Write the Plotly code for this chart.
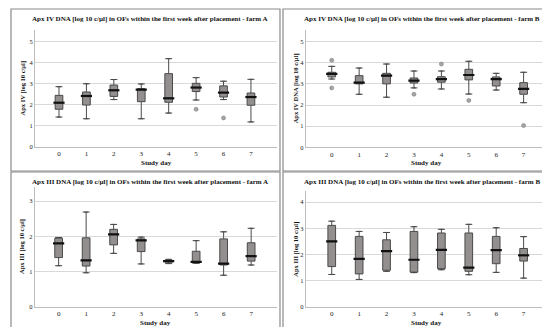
import plotly.graph_objects as go

days = [0, 1, 2, 3, 4, 5, 6, 7]

# Panel 1: Apx IV farm A
a4_low = [1.42, 1.34, 2.25, 1.34, 1.61, 2.23, 2.25, 1.19]
a4_q1 = [1.79, 1.99, 2.40, 2.15, 2.12, 2.63, 2.37, 1.98]
a4_med = [2.10, 2.42, 2.69, 2.72, 2.31, 2.82, 2.58, 2.37]
a4_q3 = [2.45, 2.61, 2.94, 2.77, 3.48, 3.02, 2.90, 2.56]
a4_high = [2.86, 3.00, 3.20, 2.99, 4.19, 3.29, 3.12, 3.21]
a4_out_x = [5, 6]
a4_out_y = [1.79, 1.38]

# Panel 2: Apx IV farm B
b4_low = [3.23, 2.51, 2.37, 2.81, 2.76, 2.52, 2.71, 2.11]
b4_q1 = [3.33, 3.00, 3.00, 3.04, 3.08, 3.19, 2.90, 2.51]
b4_med = [3.47, 3.06, 3.39, 3.15, 3.23, 3.42, 3.23, 2.76]
b4_q3 = [3.55, 3.39, 3.50, 3.28, 3.34, 3.69, 3.33, 3.06]
b4_high = [3.83, 3.75, 3.94, 3.61, 3.61, 4.07, 3.50, 3.55]
b4_out_x = [0, 0, 3, 4, 5, 7]
b4_out_y = [4.12, 2.81, 2.51, 3.94, 2.22, 1.03]

# Panel 3: Apx III farm A
a3_low = [1.17, 0.97, 1.52, 1.22, 1.23, 1.24, 0.90, 1.19]
a3_q1 = [1.40, 1.16, 1.76, 1.57, 1.27, 1.25, 1.19, 1.30]
a3_med = [1.80, 1.32, 2.06, 1.89, 1.30, 1.28, 1.23, 1.44]
a3_q3 = [1.95, 1.96, 2.20, 1.93, 1.32, 1.58, 1.93, 1.82]
a3_high = [1.97, 2.69, 2.34, 1.98, 1.35, 1.88, 2.13, 2.23]

# Panel 4: Apx III farm B
b3_low = [1.24, 1.05, 1.36, 1.31, 1.42, 1.23, 1.32, 1.10]
b3_q1 = [1.54, 1.26, 1.40, 1.33, 1.46, 1.36, 1.65, 1.75]
b3_med = [2.50, 1.83, 2.13, 1.80, 2.18, 1.50, 2.17, 1.97]
b3_q3 = [3.11, 2.69, 2.56, 2.88, 2.82, 2.82, 2.69, 2.23]
b3_high = [3.27, 2.88, 2.84, 3.06, 2.96, 3.15, 3.02, 2.68]

titles = [
    "Apx IV DNA [log 10 c/µl] in OFs within the first week after placement - farm A",
    "Apx IV DNA [log 10 c/µl] in OFs within the first week after placement - farm B",
    "Apx III DNA [log 10 c/µl] in OFs within the first week after placement - farm A",
    "Apx III DNA [log 10 c/µl] in OFs within the first week after placement - farm B",
]
ytitles = [
    "Apx IV [log 10 c/µl]",
    "Apx IV DNA [log 10 c/µl]",
    "Apx III [log 10 c/µl]",
    "Apx III [log 10 c/µl]",
]
xtitle = "Study day"

W, H = 550, 327
FONT = "Liberation Serif"

panels = [
    dict(stats=(a4_low, a4_q1, a4_med, a4_q3, a4_high), out=(a4_out_x, a4_out_y),
         px=(27, 269), py=(22, 139), xr=[-0.875, 7.95], yr=[0, 5.55], ytv=[0, 1, 2, 3, 4, 5],
         border=(3, 272, 1, 163), ytx=14),
    dict(stats=(b4_low, b4_q1, b4_med, b4_q3, b4_high), out=(b4_out_x, b4_out_y),
         px=(297.7, 540), py=(22, 139.3), xr=[-0.95, 7.89], yr=[0, 5.55], ytv=[0, 1, 2, 3, 4, 5],
         border=(275, 544, 1, 163), ytx=287.7),
    dict(stats=(a3_low, a3_q1, a3_med, a3_q3, a3_high), out=([], []),
         px=(26.7, 269), py=(179, 299), xr=[-0.87, 7.94], yr=[0, 3.4], ytv=[0, 1, 2, 3],
         border=(3, 272, 164, 322), ytx=14),
    dict(stats=(b3_low, b3_q1, b3_med, b3_q3, b3_high), out=([], []),
         px=(297.7, 540), py=(183, 299), xr=[-0.95, 7.89], yr=[0, 4.42], ytv=[0, 1, 2, 3, 4],
         border=(275, 544, 164, 322), ytx=287.7),
]

fig = go.Figure()
shapes = []
annotations = []
layout_axes = {}

for i, p in enumerate(panels):
    n = i + 1
    xa = "x" if n == 1 else f"x{n}"
    ya = "y" if n == 1 else f"y{n}"
    low, q1, med, q3, high = p["stats"]
    fig.add_trace(go.Box(
        x=days, q1=q1, median=med, q3=q3, lowerfence=low, upperfence=high,
        width=0.28, fillcolor="#948f8f", line=dict(color="#4a4a4a", width=1),
        boxpoints=False, xaxis=xa, yaxis=ya, showlegend=False, hoverinfo="skip",
    ))
    # whisker caps
    fig.add_trace(go.Scatter(
        x=days + days, y=low + high, mode="markers",
        marker=dict(symbol="line-ew", size=5, line=dict(color="#4a4a4a", width=1)),
        xaxis=xa, yaxis=ya, showlegend=False, hoverinfo="skip",
    ))
    # thick medians
    fig.add_trace(go.Scatter(
        x=days, y=med, mode="markers",
        marker=dict(symbol="line-ew", size=8, line=dict(color="#111111", width=2.2)),
        xaxis=xa, yaxis=ya, showlegend=False, hoverinfo="skip",
    ))
    ox, oy = p["out"]
    if ox:
        fig.add_trace(go.Scatter(
            x=ox, y=oy, mode="markers",
            marker=dict(symbol="circle", size=4, color="#a5a5a5",
                        line=dict(color="#808080", width=0.6)),
            xaxis=xa, yaxis=ya, showlegend=False, hoverinfo="skip",
        ))
    x0, x1 = p["px"]
    ytop, ybot = p["py"]
    xkey = "xaxis" if n == 1 else f"xaxis{n}"
    ykey = "yaxis" if n == 1 else f"yaxis{n}"
    layout_axes[xkey] = dict(
        domain=[x0 / W, x1 / W], anchor=ya, range=p["xr"], tickvals=days,
        showgrid=False, zeroline=False, showline=True, linecolor="#bdbdbd", linewidth=1,
        ticks="", tickfont=dict(family=FONT, size=7, color="#222"), automargin=False,
    )
    layout_axes[ykey] = dict(
        domain=[(H - ybot) / H, (H - ytop) / H], anchor=xa, range=p["yr"], tickvals=p["ytv"],
        showgrid=True, gridcolor="#d9d9d9", gridwidth=1, zeroline=False,
        showline=True, linecolor="#bdbdbd", linewidth=1,
        ticks="", tickfont=dict(family=FONT, size=6.5, color="#222"), automargin=False,
    )
    bx0, bx1, by0, by1 = p["border"]
    shapes.append(dict(type="rect", xref="paper", yref="paper",
                       x0=bx0 / W, x1=bx1 / W, y0=(H - by1) / H, y1=(H - by0) / H,
                       line=dict(color="#8a8a8a", width=1.2), fillcolor="rgba(0,0,0,0)"))
    annotations.append(dict(text=f"<b>{titles[i]}</b>", xref="paper", yref="paper",
                            x=((bx0 + bx1) / 2 + 4) / W, y=(H - (by0 + 10)) / H,
                            showarrow=False, font=dict(family=FONT, size=7, color="#111"),
                            xanchor="center", yanchor="middle"))
    annotations.append(dict(text=f"<b>{ytitles[i]}</b>", xref="paper", yref="paper",
                            x=p["ytx"] / W, y=(H - (ytop + ybot) / 2) / H, textangle=-90,
                            showarrow=False, font=dict(family=FONT, size=6.5, color="#111"),
                            xanchor="center", yanchor="middle"))
    annotations.append(dict(text=f"<b>{xtitle}</b>", xref="paper", yref="paper",
                            x=((x0 + x1) / 2) / W, y=(H - (ybot + 15.5)) / H,
                            showarrow=False, font=dict(family=FONT, size=7, color="#111"),
                            xanchor="center", yanchor="middle"))

fig.update_layout(
    width=W, height=H, margin=dict(l=0, r=0, t=0, b=0),
    paper_bgcolor="white", plot_bgcolor="white",
    shapes=shapes, annotations=annotations, showlegend=False,
    **layout_axes,
)

fig.write_html("out.html")
